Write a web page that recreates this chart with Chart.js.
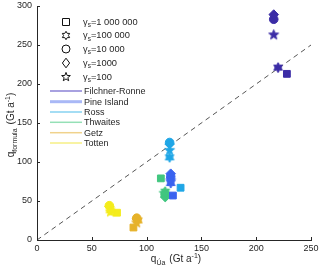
<!DOCTYPE html>
<html><head><meta charset="utf-8">
<script src="https://cdn.jsdelivr.net/npm/chart.js@4/dist/chart.umd.min.js"></script>
<style>html,body{margin:0;padding:0;background:#fff}canvas{display:block}</style>
</head><body>
<canvas id="c" width="320" height="270" style="width:320px;height:270px"></canvas>
<script>
// ---- data ----
const shelfNames = ['Filchner-Ronne','Pine Island','Ross','Thwaites','Getz','Totten'];
const gammaLabels = ['=1 000 000','=100 000','=10 000','=1000','=100'];
// point order within each shelf: gamma 1e6, 1e5, 1e4, 1e3, 100
const filchnerRonneUa      = [228, 220, 216, 216, 216];
const filchnerRonneFormula = [213, 221, 283, 289, 263];
const pineIslandUa         = [124, 122, 122, 122, 122];
const pineIslandFormula    = [57, 73, 81, 85, 76];
const rossUa               = [131, 121, 121, 121, 121];
const rossFormula          = [67, 106, 125, 123, 115];
const thwaitesUa           = [113, 117, 117, 117, 116];
const thwaitesFormula      = [79, 62, 58, 55, 60];
const getzUa               = [88, 92, 91, 91, 91];
const getzFormula          = [16, 25, 28, 27, 22];
const tottenUa             = [73, 67, 66, 66, 67];
const tottenFormula        = [35, 38, 44, 43, 36];
const xTicks = [0, 50, 100, 150, 200, 250];
const yTicks = [0, 50, 100, 150, 200, 250, 300];
const lineRef = [0, 250];

const markerColors = ['#3b2ca6','#3a63ef','#1fa6e6','#41c67f','#e6b22a','#f4ec1c'];
const legendLineColors = ['#8b82d6','#a9b8f6','#86d2f0','#95e0b6','#f0d28c','#f6ef84'];

function starImg(color, pts, R, inner){
  const s = Math.ceil(R*2+2), c = document.createElement('canvas');
  c.width = s; c.height = s;
  const g = c.getContext('2d'); g.fillStyle = color; g.strokeStyle = color; g.lineWidth = 1;
  g.beginPath();
  for(let i=0;i<pts*2;i++){
    const r = i%2===0 ? R : R*inner;
    const a = -Math.PI/2 + i*Math.PI/pts;
    const x = s/2 + r*Math.cos(a), y = s/2 + r*Math.sin(a);
    i===0 ? g.moveTo(x,y) : g.lineTo(x,y);
  }
  g.closePath(); g.fill(); g.stroke();
  return c;
}

const xs = [filchnerRonneUa, pineIslandUa, rossUa, thwaitesUa, getzUa, tottenUa];
const ys = [filchnerRonneFormula, pineIslandFormula, rossFormula, thwaitesFormula, getzFormula, tottenFormula];

const datasets = [{
  type:'line', data: lineRef.map(v=>({x:v,y:v})), borderColor:'#555', borderWidth:1,
  borderDash:[5,4], pointRadius:0, fill:false, order:10
}];
shelfNames.forEach((n,i)=>{
  const col = markerColors[i];
  datasets.push({
    type:'scatter', label:n,
    data: xs[i].map((x,j)=>({x:x, y:ys[i][j]})),
    backgroundColor: col, borderColor: col, borderWidth: 1,
    pointStyle: ['rect', starImg(col,6,5,0.58), 'circle', 'rectRot', starImg(col,5,5.2,0.42)],
    pointRadius: [4.8, 5, 4.3, 4.8, 5], order: 1
  });
});

const F = '"Liberation Sans", Arial, sans-serif';
const TXT = '#262626';

function richText(g, parts, x, y){
  let tx = x;
  parts.forEach(p=>{
    g.font = p[1]+'px '+F;
    g.fillText(p[0], tx, y + (p[2]||0));
    tx += g.measureText(p[0]).width + (p[3]||0);
  });
  return tx - x;
}
function richWidth(g, parts){
  let w=0; parts.forEach(p=>{ g.font=p[1]+'px '+F; w+=g.measureText(p[0]).width+(p[3]||0); }); return w;
}

const decor = {
  id:'decor',
  afterDraw(chart){
    const g = chart.ctx, ca = chart.chartArea, sx = chart.scales.x, sy = chart.scales.y;
    g.save();
    g.strokeStyle = TXT; g.lineWidth = 1;
    xTicks.forEach(t=>{ const p=Math.round(sx.getPixelForValue(t))+0.5; g.beginPath(); g.moveTo(p,ca.bottom); g.lineTo(p,ca.bottom-3); g.stroke(); });
    yTicks.forEach(t=>{ const p=Math.round(sy.getPixelForValue(t))+0.5; g.beginPath(); g.moveTo(ca.left,p); g.lineTo(ca.left+3,p); g.stroke(); });
    // legend: markers
    g.fillStyle = TXT; g.textBaseline='alphabetic'; g.textAlign='left';
    const rows=[22,35.5,49,63,77];
    rows.forEach((y,i)=>{
      const x=66;
      g.strokeStyle='#111'; g.lineWidth=1;
      g.beginPath();
      if(i===0){ g.rect(x-3.5,y-3.5,7,7); }
      else if(i===2){ g.arc(x,y,4,0,Math.PI*2); }
      else if(i===3){ g.moveTo(x,y-4.8); g.lineTo(x+3.6,y); g.lineTo(x,y+4.8); g.lineTo(x-3.6,y); g.closePath(); }
      else { const pts=i===1?6:5, R=i===1?4.2:4.6, inn=i===1?0.58:0.42;
        for(let k=0;k<pts*2;k++){const r=k%2===0?R:R*inn; const a=-Math.PI/2+k*Math.PI/pts; const px=x+r*Math.cos(a), py=y+r*Math.sin(a); k===0?g.moveTo(px,py):g.lineTo(px,py);} g.closePath(); }
      g.stroke();
      g.fillStyle = TXT;
      richText(g, [['γ',9.3],['s',6.5,2.5],[gammaLabels[i],9.3]], 83, y+2.5);
    });
    // legend: lines
    const lrows=[91,101.7,112,122.3,132.7,143];
    lrows.forEach((y,i)=>{
      g.strokeStyle=legendLineColors[i]; g.lineWidth = i===1?3:1.5;
      g.beginPath(); g.moveTo(50,y); g.lineTo(82,y); g.stroke();
      g.fillStyle=TXT; g.font='9px '+F; g.fillText(shelfNames[i],84,y+3);
    });
    // x title
    g.fillStyle=TXT;
    const xt = [['q',10],['Úa',7,2.5,4],['(Gt a',10],['-1',7,-4],[')',10]];
    richText(g, xt, (ca.left+ca.right)/2 - richWidth(g,xt)/2 + 2, 262);
    // y title
    const yt = [['q',10],['formula',7,2.5,4],['(Gt a',10],['-1',7,-4],[')',10]];
    const w = richWidth(g, yt);
    g.translate(14, (ca.top+ca.bottom)/2 + w/2 + 2); g.rotate(-Math.PI/2);
    richText(g, yt, 0, 0);
    g.restore();
  }
};

new Chart(document.getElementById('c'), {
  type:'scatter',
  data:{datasets},
  options:{
    responsive:false, devicePixelRatio:1, animation:false,
    layout:{padding:{left:0,right:9,top:5,bottom:0}},
    plugins:{legend:{display:false}, tooltip:{enabled:false}},
    scales:{
      x:{type:'linear', min:0, max:250,
        afterBuildTicks(s){ s.ticks = xTicks.map(v=>({value:v})); },
        afterFit(s){ s.height = 30; s.paddingLeft = 0; s.paddingRight = 0; },
        grid:{display:false, drawTicks:false},
        border:{display:true,color:TXT,width:1},
        ticks:{color:TXT,font:{family:F,size:9},padding:3,maxRotation:0}
      },
      y:{type:'linear', min:0, max:300,
        afterBuildTicks(s){ s.ticks = yTicks.map(v=>({value:v})); },
        afterFit(s){ s.width = 37; s.paddingTop = 0; s.paddingBottom = 0; },
        grid:{display:false, drawTicks:false},
        border:{display:true,color:TXT,width:1},
        ticks:{color:TXT,font:{family:F,size:9},padding:5}
      }
    }
  },
  plugins:[decor]
});
</script>
</body></html>
